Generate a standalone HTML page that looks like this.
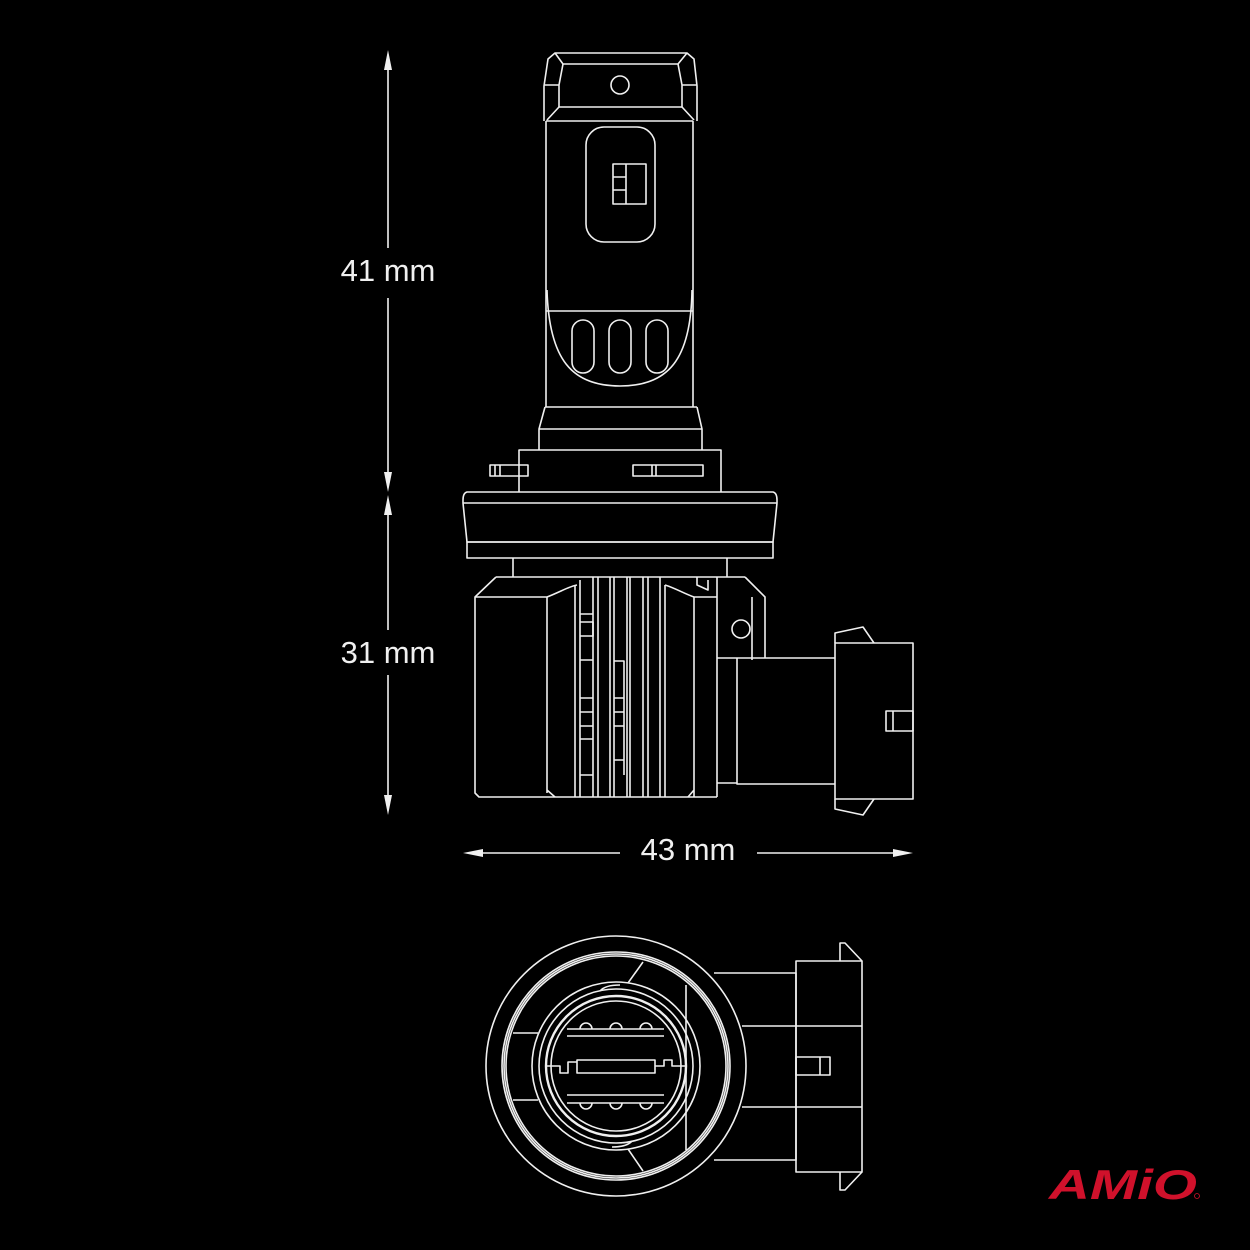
<!DOCTYPE html>
<html><head><meta charset="utf-8"><style>
html,body{margin:0;padding:0;background:#000;}
svg{display:block}
</style></head><body>
<svg width="1250" height="1250" viewBox="0 0 1250 1250" xmlns="http://www.w3.org/2000/svg">
<rect width="1250" height="1250" fill="#000"/>
<g fill="none" stroke="#f0f0f0" stroke-width="1.6" stroke-linejoin="round">
<!-- top cap -->
<path d="M544,121 L544,86 L548,59 L555,53 L687,53 L694,59 L697,86 L697,121"/>
<path d="M555,53 L563,64 L678,64 L687,53"/>
<path d="M563,64 L559,85 L559,107 L682,107 L682,85 L678,64"/>
<path d="M544,85 L559,85 M682,85 L697,85"/>
<path d="M559,107 L547,120 M682,107 L694,120"/>
<circle cx="620" cy="85" r="9"/>
<!-- main body -->
<path d="M546,121 L693,121 M546,121 L546,407 M693,121 L693,407"/>
<path d="M546,311 L693,311"/>
<path d="M547,290 C549,360 572,386 620,386 C668,386 691,360 692,290"/>
<rect x="586" y="127" width="69" height="115" rx="18"/>
<rect x="613" y="164" width="33" height="40"/>
<path d="M626,164 L626,204 M613,177 L626,177 M613,190 L626,190"/>
<rect x="572" y="320" width="22" height="53" rx="11"/>
<rect x="609" y="320" width="22" height="53" rx="11"/>
<rect x="646" y="320" width="22" height="53" rx="11"/>
<!-- neck -->
<path d="M545,407 L697,407 M545,407 L539,429 L702,429 L697,407 M539,429 L539,450 M702,429 L702,450"/>
<path d="M519,492 L519,450 L721,450 L721,492"/>
<rect x="490" y="465" width="38" height="11"/>
<path d="M495,465 L495,476 M500,465 L500,476"/>
<rect x="633" y="465" width="70" height="11"/>
<path d="M652,465 L652,476 M656,465 L656,476"/>
<!-- flange -->
<path d="M467,492 L773,492 Q777,493 777,500 L777,503 L773,542 L467,542 L463,503 L463,500 Q463,493 467,492 Z"/>
<path d="M463,503 L777,503"/>
<rect x="467" y="542" width="306" height="16"/>
<path d="M513,558 L513,577 M727,558 L727,577"/>
<!-- lower body -->
<path d="M496,577 L745,577 M496,577 L475,597 L475,793 L479,797 L717,797"/>
<path d="M745,577 L765,597 L765,658"/>
<path d="M475,597 L547,597 C560,592 570,586 577,585"/>
<path d="M547,597 L547,793 M547,790 L555,797"/>
<path d="M575,585 L575,797 M580,580 L580,797 M593,577 L593,797 M598,577 L598,797 M610,577 L610,797 M614,577 L614,797 M627,577 L627,797 M630,577 L630,797 M643,577 L643,797 M648,577 L648,797 M660,577 L660,797 M665,585 L665,797"/>
<path d="M665,585 C675,588 685,594 694,597 L717,597 M694,597 L694,797 M694,790 L688,797"/>
<path d="M580,614 L593,614 M580,622 L593,622 L593,636 L580,636 M580,660 L593,660 M580,698 L593,698 M580,712 L593,712 M580,726 L593,726 M580,739 L593,739 M580,775 L593,775"/>
<path d="M614,661 L624,661 L624,775 M614,698 L624,698 M614,712 L624,712 M614,726 L624,726 M614,760 L624,760"/>
<path d="M717,577 L717,797 M717,783 L737,783"/>
<path d="M697,577 L697,585 L708,590 L708,580"/>
<path d="M752,597 L752,660"/>
<circle cx="741" cy="629" r="9"/>
<path d="M717,658 L835,658 M737,658 L737,784 L835,784"/>
<rect x="835" y="643" width="78" height="156"/>
<path d="M835,643 L835,633 L863,627 L874,643 M835,799 L835,809 L863,815 L874,799"/>
<rect x="886" y="711" width="27" height="20"/>
<path d="M893,711 L893,731"/>
<!-- bottom view -->
<circle cx="616" cy="1066" r="130"/>
<circle cx="616" cy="1066" r="114"/>
<circle cx="616" cy="1066" r="112"/>
<circle cx="616" cy="1066" r="110"/>
<circle cx="616" cy="1066" r="84"/>
<circle cx="616" cy="1066" r="77"/>
<circle cx="616" cy="1066" r="70" stroke-width="2.4"/>
<circle cx="616" cy="1066" r="65"/>
<path d="M643,962 L628,983 M628,1149 L643,1171"/>
<path d="M513,1033 L538,1033 M513,1100 L538,1100"/>
<path d="M686,985 L686,1150"/>
<path d="M600,991 Q605,985 620,985 M632,1141 Q627,1147 612,1147"/>
<path d="M567,1029 L664,1029 M567,1036 L664,1036 M567,1095 L664,1095 M567,1103 L664,1103"/>
<path d="M580,1029 A6,6 0 0 1 592,1029 M610,1029 A6,6 0 0 1 622,1029 M640,1029 A6,6 0 0 1 652,1029"/>
<path d="M580,1103 A6,6 0 0 0 592,1103 M610,1103 A6,6 0 0 0 622,1103 M640,1103 A6,6 0 0 0 652,1103"/>
<rect x="577" y="1060" width="78" height="13"/>
<path d="M547,1066 L560,1066 L560,1073 L568,1073 L568,1062 L577,1062 M685,1066 L672,1066 L672,1060 L664,1060 L664,1066 L655,1066"/>
<path d="M714,973 L796,973 L796,1160 L714,1160"/>
<rect x="796" y="961" width="66" height="211"/>
<path d="M742,1026 L862,1026 M742,1107 L862,1107"/>
<path d="M840,961 L840,943 L845,943 L862,961 M840,1172 L840,1190 L845,1190 L862,1172"/>
<rect x="796" y="1057" width="34" height="18"/>
<path d="M820,1057 L820,1075"/>
<!-- dimension lines -->
<path d="M388,62 L388,248 M388,298 L388,480 M388,505 L388,630 M388,675 L388,805"/>
<path d="M473,853 L620,853 M757,853 L903,853"/>
</g>
<g fill="#f0f0f0">
<path d="M388,50 L384,70 L392,70 Z"/>
<path d="M388,492 L384,472 L392,472 Z"/>
<path d="M388,495 L384,515 L392,515 Z"/>
<path d="M388,815 L384,795 L392,795 Z"/>
<path d="M463,853 L483,849 L483,857 Z"/>
<path d="M913,853 L893,849 L893,857 Z"/>
</g>
<g fill="#f0f0f0" font-family="Liberation Sans, sans-serif" font-size="31" text-anchor="middle">
<text x="388" y="281">41 mm</text>
<text x="388" y="663">31 mm</text>
<text x="688" y="860">43 mm</text>
</g>
<text x="1123" y="1199" fill="#d0112b" font-family="Liberation Sans, sans-serif" font-size="42" font-weight="bold" font-style="italic" text-anchor="middle" textLength="148" lengthAdjust="spacingAndGlyphs">AMiO</text>
<circle cx="1197" cy="1196" r="2.5" fill="none" stroke="#d0112b" stroke-width="0.8"/>
</svg>
</body></html>
